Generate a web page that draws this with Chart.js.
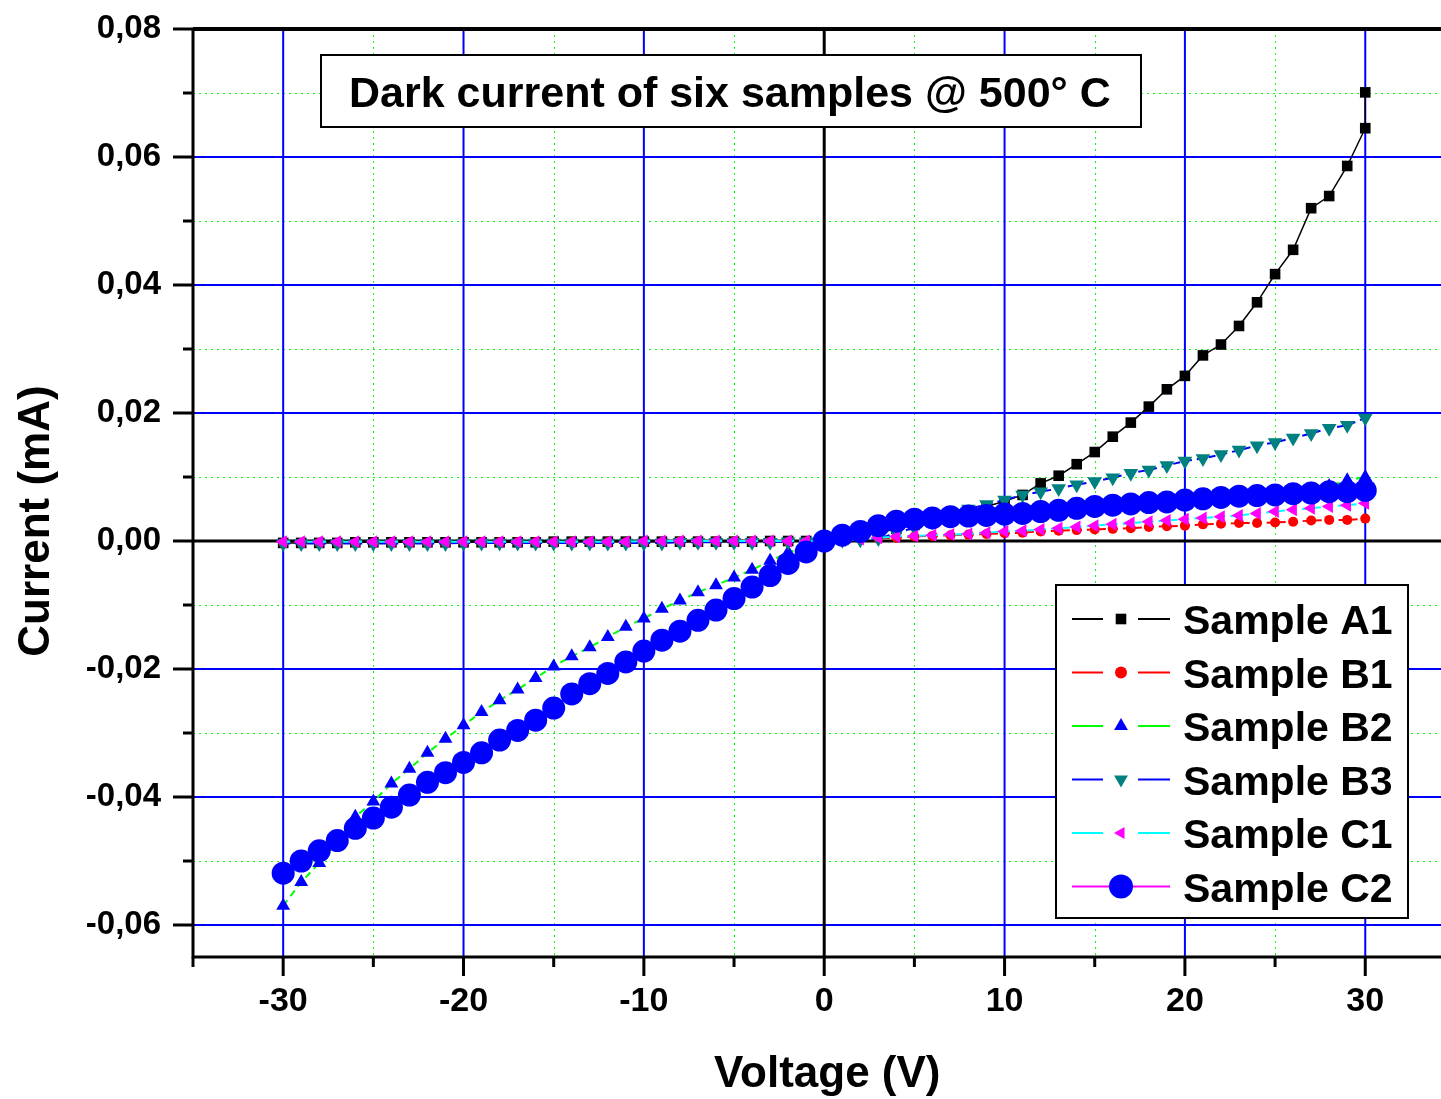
<!DOCTYPE html>
<html lang="en">
<head>
<meta charset="UTF-8">
<title>Dark current of six samples</title>
<script src="https://cdn.jsdelivr.net/npm/chart.js"></script>
<style>
  html, body { margin: 0; background: #fff; overflow: hidden; }
  canvas { display: block; }
</style>
</head>
<body>
<canvas id="chart" width="1441" height="1099"></canvas>

<script>
  // Voltage steps (V)
  const voltage = [-30, -29, -28, -27, -26, -25, -24, -23, -22, -21, -20, -19, -18, -17, -16, -15, -14, -13, -12, -11,
    -10, -9, -8, -7, -6, -5, -4, -3, -2, -1, 0, 1, 2, 3, 4, 5, 6, 7, 8, 9, 10, 11, 12, 13, 14, 15, 16, 17, 18, 19,
    20, 21, 22, 23, 24, 25, 26, 27, 28, 29, 30];
  // A1 has one extra reading at 30 V
  const voltageA1 = voltage.concat([30]);

  // Current (mA)
  const sampleA1 = [-0.0003, -0.0003, -0.0003, -0.0003, -0.0002, -0.0002, -0.0002, -0.0002, -0.0002, -0.0002,
    -0.0002, -0.0002, -0.0002, -0.0002, -0.0002, -0.0001, -0.0001, -0.0001, -0.0001, -0.0001,
    -0.0001, -0.0001, -0.0001, -0.0001, -0.0001, -0.0001, -0.0001, 0, 0, 0, 0,
    0.0004, 0.0008, 0.0013, 0.0019, 0.0025, 0.0032, 0.0039, 0.0046, 0.0054, 0.0062,
    0.0072, 0.0090, 0.0102, 0.0120, 0.0139, 0.0163, 0.0185, 0.0210, 0.0237, 0.0258,
    0.0290, 0.0307, 0.0336, 0.0373, 0.0417, 0.0455, 0.0520, 0.0539, 0.0586, 0.0645, 0.0701];
  const sampleB1 = [-0.0003, -0.0003, -0.0003, -0.0003, -0.0003, -0.0003, -0.0003, -0.0003, -0.0003, -0.0003,
    -0.0002, -0.0002, -0.0002, -0.0002, -0.0002, -0.0002, -0.0002, -0.0002, -0.0002, -0.0002,
    -0.0002, -0.0002, -0.0001, -0.0001, -0.0001, -0.0001, -0.0001, -0.0001, -0.0001, -0.0001, 0,
    0.0001, 0.0003, 0.0004, 0.0005, 0.0007, 0.0008, 0.0009, 0.0010, 0.0011, 0.0012,
    0.0013, 0.0015, 0.0016, 0.0017, 0.0018, 0.0019, 0.0020, 0.0022, 0.0023, 0.0024,
    0.0026, 0.0027, 0.0028, 0.0028, 0.0029, 0.0030, 0.0032, 0.0033, 0.0033, 0.0035];
  const sampleB2 = [-0.0570, -0.0533, -0.0503, -0.0470, -0.0431, -0.0407, -0.0379, -0.0356, -0.0331, -0.0309,
    -0.0288, -0.0267, -0.0249, -0.0232, -0.0214, -0.0196, -0.0180, -0.0166, -0.0150, -0.0134,
    -0.0121, -0.0106, -0.0093, -0.0080, -0.0069, -0.0057, -0.0045, -0.0031, -0.0018, -0.0008, 0,
    0.0008, 0.0014, 0.0022, 0.0029, 0.0033, 0.0035, 0.0037, 0.0039, 0.0041, 0.0043,
    0.0045, 0.0047, 0.0049, 0.0052, 0.0055, 0.0057, 0.0059, 0.0061, 0.0063, 0.0065,
    0.0067, 0.0069, 0.0071, 0.0073, 0.0075, 0.0078, 0.0081, 0.0086, 0.0095, 0.0100];
  const sampleB3 = [-0.0004, -0.0004, -0.0004, -0.0004, -0.0004, -0.0004, -0.0004, -0.0004, -0.0004, -0.0004,
    -0.0003, -0.0003, -0.0003, -0.0003, -0.0003, -0.0003, -0.0003, -0.0003, -0.0003, -0.0003,
    -0.0003, -0.0003, -0.0002, -0.0002, -0.0002, -0.0002, -0.0002, -0.0002, -0.0001, -0.0001, 0,
    0.0001, 0.0002, 0.0004, 0.0012, 0.0021, 0.0030, 0.0039, 0.0050, 0.0057, 0.0064,
    0.0072, 0.0077, 0.0082, 0.0088, 0.0093, 0.0099, 0.0106, 0.0111, 0.0118, 0.0125,
    0.0129, 0.0135, 0.0142, 0.0149, 0.0154, 0.0161, 0.0168, 0.0176, 0.0181, 0.0192];
  const sampleC1 = [-0.0001, -0.0001, -0.0001, -0.0001, -0.0001, -0.0001, -0.0001, -0.0001, -0.0001, -0.0001,
    -0.0001, -0.0001, -0.0001, -0.0001, -0.0001, -0.0001, -0.0001, -0.0001, -0.0001, -0.0001,
    0, 0, 0, 0, 0, 0, 0, 0, 0, 0, 0,
    0.0001, 0.0003, 0.0005, 0.0007, 0.0008, 0.0009, 0.0010, 0.0011, 0.0013, 0.0015,
    0.0016, 0.0018, 0.0020, 0.0022, 0.0024, 0.0026, 0.0028, 0.0030, 0.0032, 0.0034,
    0.0036, 0.0038, 0.0040, 0.0043, 0.0046, 0.0049, 0.0051, 0.0054, 0.0056, 0.0059];
  const sampleC2 = [-0.0519, -0.0500, -0.0484, -0.0468, -0.0449, -0.0433, -0.0416, -0.0397, -0.0377, -0.0362,
    -0.0346, -0.0331, -0.0311, -0.0296, -0.0280, -0.0261, -0.0239, -0.0223, -0.0207, -0.0189,
    -0.0172, -0.0155, -0.0141, -0.0124, -0.0108, -0.0090, -0.0072, -0.0054, -0.0035, -0.0017, 0,
    0.0009, 0.0015, 0.0024, 0.0031, 0.0034, 0.0036, 0.0038, 0.0039, 0.0040, 0.0042,
    0.0043, 0.0046, 0.0048, 0.0051, 0.0054, 0.0056, 0.0058, 0.0060, 0.0061, 0.0064,
    0.0066, 0.0068, 0.0070, 0.0071, 0.0072, 0.0074, 0.0075, 0.0077, 0.0077, 0.0079];

  // Axis ticks
  const xMajor = [-30, -20, -10, 0, 10, 20, 30];
  const xMinor = [-35, -25, -15, -5, 5, 15, 25];
  const yMajor = [-0.06, -0.04, -0.02, 0, 0.02, 0.04, 0.06, 0.08];
  const yMinor = [-0.05, -0.03, -0.01, 0.01, 0.03, 0.05, 0.07];

  const chartTitle = 'Dark current of six samples @ 500° C';
  const xTitle = 'Voltage (V)';
  const yTitle = 'Current (mA)';

  const FONT = "'Liberation Sans', Arial, Helvetica, sans-serif";

  const series = [
    { label: 'Sample A1', x: voltageA1, y: sampleA1, line: '#000000', marker: '#000000', style: 'rect', rot: 0, r: 7.5, lr: 7.5, dash: [], order: 5 },
    { label: 'Sample B1', x: voltage, y: sampleB1, line: '#ff0000', marker: '#ff0000', style: 'circle', rot: 0, r: 5, lr: 6, dash: [7, 5], order: 4 },
    { label: 'Sample B2', x: voltage, y: sampleB2, line: '#00ff00', marker: '#0000ff', style: 'triangle', rot: 0, r: 8, lr: 8, dash: [7, 5], order: 3 },
    { label: 'Sample B3', x: voltage, y: sampleB3, line: '#0000ff', marker: '#008080', style: 'triangle', rot: 180, r: 8.5, lr: 8, dash: [7, 5], order: 2 },
    { label: 'Sample C1', x: voltage, y: sampleC1, line: '#00ffff', marker: '#ff00ff', style: 'triangle', rot: -90, r: 7.5, lr: 7, dash: [7, 5], order: 1 },
    { label: 'Sample C2', x: voltage, y: sampleC2, line: '#ff00ff', marker: '#0000ff', style: 'circle', rot: 0, r: 11.5, lr: 12, dash: [], order: 0 }
  ];

  function strokeLine(ctx, x1, y1, x2, y2) {
    ctx.beginPath();
    ctx.moveTo(x1, y1);
    ctx.lineTo(x2, y2);
    ctx.stroke();
  }

  // grid, zero lines, axis frame and tick marks
  const framePlugin = {
    id: 'frame',
    beforeDatasetsDraw(chart) {
      const { ctx, chartArea: a, scales: { x, y } } = chart;
      ctx.save();

      ctx.strokeStyle = '#00ff00';
      ctx.lineWidth = 1;
      ctx.setLineDash([2, 4]);
      xMinor.forEach(v => {
        const px = Math.round(x.getPixelForValue(v)) + 0.5;
        if (px > a.left + 2) strokeLine(ctx, px, a.top, px, a.bottom);
      });
      yMinor.forEach(v => {
        const py = Math.round(y.getPixelForValue(v)) + 0.5;
        strokeLine(ctx, a.left, py, a.right, py);
      });

      ctx.setLineDash([]);
      ctx.strokeStyle = '#0000ff';
      ctx.lineWidth = 2;
      xMajor.filter(v => v !== 0).forEach(v => {
        const px = x.getPixelForValue(v);
        strokeLine(ctx, px, a.top, px, a.bottom);
      });
      yMajor.filter(v => v !== 0 && v < 0.08).forEach(v => {
        const py = y.getPixelForValue(v);
        strokeLine(ctx, a.left, py, a.right, py);
      });

      // zero lines
      ctx.strokeStyle = '#000000';
      ctx.lineWidth = 3;
      const x0 = x.getPixelForValue(0);
      const y0 = y.getPixelForValue(0);
      strokeLine(ctx, x0, a.top, x0, a.bottom);
      strokeLine(ctx, a.left, y0, a.right, y0);

      // frame
      ctx.lineWidth = 4;
      strokeLine(ctx, a.left, a.top, a.right, a.top);
      ctx.lineWidth = 3;
      strokeLine(ctx, a.left, a.top - 1, a.left, a.bottom + 1);
      strokeLine(ctx, a.left - 1, a.bottom, a.right, a.bottom);

      // tick marks
      yMajor.forEach(v => {
        const py = y.getPixelForValue(v);
        strokeLine(ctx, a.left - 20, py, a.left, py);
      });
      yMinor.forEach(v => {
        const py = y.getPixelForValue(v);
        strokeLine(ctx, a.left - 10, py, a.left, py);
      });
      xMajor.forEach(v => {
        const px = x.getPixelForValue(v);
        strokeLine(ctx, px, a.bottom, px, a.bottom + 19);
      });
      xMinor.forEach(v => {
        const px = x.getPixelForValue(v);
        strokeLine(ctx, px, a.bottom, px, a.bottom + 10);
      });
      ctx.restore();
    },
    afterDatasetsDraw(chart) {
      const { ctx, scales: { x } } = chart;
      ctx.save();

      // title box
      ctx.fillStyle = '#ffffff';
      ctx.fillRect(321, 55, 820, 72);
      ctx.strokeStyle = '#000000';
      ctx.lineWidth = 2;
      ctx.strokeRect(321, 55, 820, 72);
      ctx.fillStyle = '#000000';
      ctx.font = 'bold 43px ' + FONT;
      ctx.textAlign = 'left';
      ctx.textBaseline = 'alphabetic';
      ctx.fillText(chartTitle, 349, 107);

      // legend
      ctx.fillStyle = '#ffffff';
      ctx.fillRect(1056, 585, 352, 333);
      ctx.strokeRect(1056, 585, 352, 333);
      series.forEach((s, i) => {
        const ry = 619 + i * 53.5;
        ctx.strokeStyle = s.line;
        ctx.lineWidth = 2;
        strokeLine(ctx, 1072, ry, 1103, ry);
        strokeLine(ctx, 1138, ry, 1170, ry);
        if (s.style === 'circle' && s.lr > 10) strokeLine(ctx, 1103, ry, 1138, ry);
        ctx.fillStyle = s.marker;
        ctx.strokeStyle = s.marker;
        Chart.helpers.drawPoint(ctx, { pointStyle: s.style, rotation: s.rot, radius: s.lr, borderWidth: 0 }, 1121, ry);
        ctx.fillStyle = '#000000';
        ctx.font = 'bold 41px ' + FONT;
        ctx.textBaseline = 'alphabetic';
        ctx.fillText(s.label, 1183, ry + 15);
      });

      // axis titles
      ctx.fillStyle = '#000000';
      ctx.font = 'bold 44px ' + FONT;
      ctx.textAlign = 'center';
      ctx.fillText(xTitle, x.getPixelForValue(0) + 3, 1087);
      ctx.translate(49, 521);
      ctx.rotate(-Math.PI / 2);
      ctx.fillText(yTitle, 0, 0);
      ctx.restore();
    }
  };

  new Chart(document.getElementById('chart'), {
    type: 'line',
    data: {
      datasets: series.map(s => ({
        label: s.label,
        data: s.x.map((v, i) => ({ x: v, y: s.y[i] })),
        borderColor: s.line,
        borderWidth: s.style === 'rect' ? 1.5 : 2,
        borderDash: s.dash,
        pointStyle: s.style,
        pointRotation: s.rot,
        pointRadius: s.r,
        pointHoverRadius: s.r,
        pointBackgroundColor: s.marker,
        pointBorderColor: s.marker,
        pointBorderWidth: 0,
        fill: false,
        tension: 0,
        order: s.order
      }))
    },
    options: {
      responsive: false,
      animation: false,
      // the plot frame runs off the right edge of the canvas
      layout: { autoPadding: false, padding: { top: 29, right: 0, bottom: 0, left: 0 } },
      plugins: {
        legend: { display: false },
        title: { display: false },
        tooltip: { enabled: false }
      },
      scales: {
        x: {
          type: 'linear',
          min: -35,
          max: 34.2,
          grid: { display: false, drawTicks: false },
          border: { display: false },
          afterBuildTicks: scale => { scale.ticks = xMajor.map(v => ({ value: v })); },
          afterFit: scale => {
            scale.height = 142;
            scale.paddingLeft = 0;
            scale.paddingRight = 0;
          },
          ticks: {
            autoSkip: false,
            maxRotation: 0,
            padding: 24,
            color: '#000000',
            font: { family: FONT, size: 34, weight: 'bold' },
            callback: v => String(v)
          }
        },
        y: {
          type: 'linear',
          min: -0.065,
          max: 0.08,
          grid: { display: false, drawTicks: false },
          border: { display: false },
          afterBuildTicks: scale => { scale.ticks = yMajor.map(v => ({ value: v })); },
          afterFit: scale => {
            scale.width = 193;
            scale.paddingTop = 0;
            scale.paddingBottom = 0;
          },
          ticks: {
            autoSkip: false,
            padding: 32,
            color: '#000000',
            font: { family: FONT, size: 33, weight: 'bold' },
            callback: v => v.toFixed(2).replace('.', ',')
          }
        }
      }
    },
    plugins: [framePlugin]
  });
</script>
</body>
</html>
